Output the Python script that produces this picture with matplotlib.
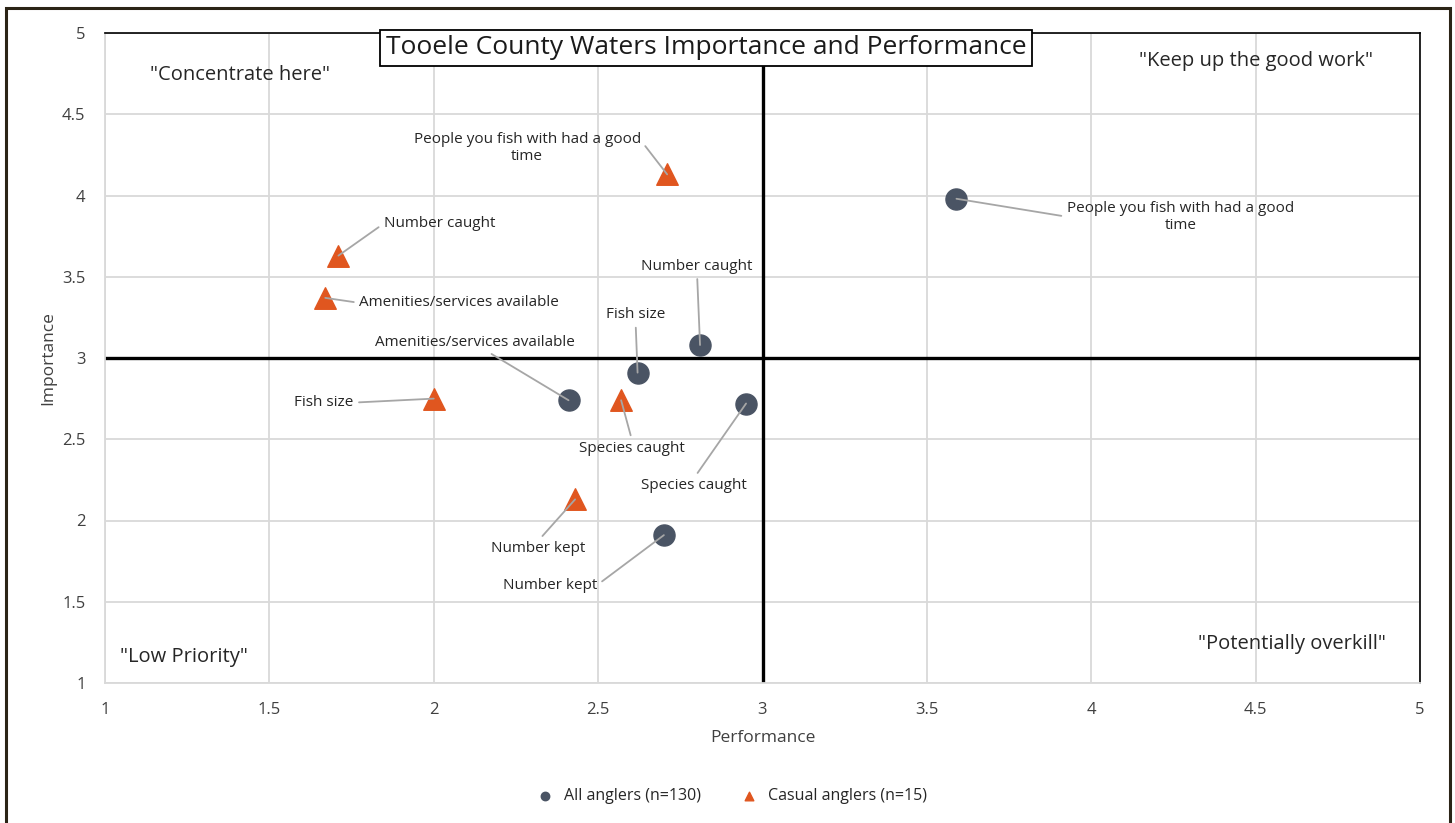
import matplotlib.pyplot as plt
from matplotlib.patches import Rectangle

plt.rcParams['font.family'] = ['Open Sans', 'DejaVu Sans']

# -----------------------
# Data
# -----------------------
items = ["People you fish with had a good\ntime", "Number caught", "Fish size",
         "Amenities/services available", "Species caught", "Number kept"]

all_perf = [3.59, 2.81, 2.62, 2.41, 2.95, 2.70]
all_imp  = [3.98, 3.08, 2.91, 2.74, 2.72, 1.91]

cas_perf = [2.71, 1.71, 2.00, 1.67, 2.57, 2.43]
cas_imp  = [4.13, 3.63, 2.75, 3.37, 2.74, 2.13]

# label offsets (pixels, text centre relative to point)
all_off = [(224, -18), (-3, 79), (-2, 58), (-94, 58), (-52, -82), (-114, -50)]
cas_off = [(-140, 26), (101, 32), (-110, -4), (134, -5), (11, -48), (-37, -49)]
# where the leader line leaves the text box
all_rel = [(0.0, 0.5), (0.5, 0.0), (0.5, 0.0), (0.55, 0.0), (0.5, 1.0), (1.0, 0.5)]
cas_rel = [(1.0, 0.75), (0.0, 0.5), (1.0, 0.5), (0.0, 0.5), (0.5, 1.0), (0.5, 1.0)]

dark = '#4A5464'
orange = '#E0561F'
grey = '#A6A6A6'

fig = plt.figure(figsize=(14.55, 8.23), dpi=100)
ax = fig.add_axes([105/1455, 1-683/823, 1315/1455, 650/823])

ax.set_xlim(1, 5)
ax.set_ylim(1, 5)
ax.set_xticks([1, 1.5, 2, 2.5, 3, 3.5, 4, 4.5, 5])
ax.set_yticks([1, 1.5, 2, 2.5, 3, 3.5, 4, 4.5, 5])
ax.set_xticklabels(['1', '1.5', '2', '2.5', '3', '3.5', '4', '4.5', '5'])
ax.set_yticklabels(['1', '1.5', '2', '2.5', '3', '3.5', '4', '4.5', '5'])
ax.tick_params(length=0, labelsize=12, colors='#404040', pad=14)
ax.grid(True, color='#D9D9D9', lw=1.3, zorder=0)
ax.set_axisbelow(True)
for side in ['left', 'bottom']:
    ax.spines[side].set_color('#D9D9D9')
    ax.spines[side].set_linewidth(1.3)
for side in ['top', 'right']:
    ax.spines[side].set_color('black')
    ax.spines[side].set_linewidth(1.2)

ax.axvline(3, color='black', lw=2.4, zorder=1)
ax.axhline(3, color='black', lw=2.4, zorder=1)

ax.set_xlabel('Performance', fontsize=12.5, color='#404040', labelpad=8)
ax.set_ylabel('Importance', fontsize=12.5, color='#404040', labelpad=4)

ax.scatter(all_perf, all_imp, s=230, marker='o', color=dark, zorder=4,
           label='All anglers (n=130)')
ax.scatter(cas_perf, cas_imp, s=240, marker='^', color=orange, zorder=4,
           label='Casual anglers (n=15)')

for name, x, y, off, rel in zip(items, all_perf, all_imp, all_off, all_rel):
    ax.annotate(name, (x, y), xytext=off, textcoords='offset pixels',
                ha='center', va='center', fontsize=11, color='#262626',
                multialignment='center', zorder=5,
                arrowprops=dict(arrowstyle='-', color=grey, lw=1.3,
                                shrinkA=2, shrinkB=0, relpos=rel))
for name, x, y, off, rel in zip(items, cas_perf, cas_imp, cas_off, cas_rel):
    ax.annotate(name, (x, y), xytext=off, textcoords='offset pixels',
                ha='center', va='center', fontsize=11, color='#262626',
                multialignment='center', zorder=5,
                arrowprops=dict(arrowstyle='-', color=grey, lw=1.3,
                                shrinkA=2, shrinkB=0, relpos=rel))

# quadrant captions
ax.text(1.41, 4.74, '"Concentrate here"', ha='center', va='center', fontsize=14.5, color='#262626')
ax.text(4.5, 4.83, '"Keep up the good work"', ha='center', va='center', fontsize=14.5, color='#262626')
ax.text(1.24, 1.16, '"Low Priority"', ha='center', va='center', fontsize=14.5, color='#262626')
ax.text(4.61, 1.24, '"Potentially overkill"', ha='center', va='center', fontsize=14.5, color='#262626')

# title box
fig.text(706/1455, 1-48/823, 'Tooele County Waters Importance and Performance',
         ha='center', va='center', fontsize=19, color='#1a1a1a',
         bbox=dict(boxstyle='square,pad=0.22', fc='white', ec='black', lw=1.3))

leg = fig.legend(loc='center', bbox_to_anchor=(728/1455, 1-796/823), ncol=2,
                 frameon=False, fontsize=11.5, markerscale=0.4,
                 handletextpad=0.2, columnspacing=2.0)
for t in leg.get_texts():
    t.set_color('#262626')

# outer frame
fig.patches.append(Rectangle((6/1455, -0.05), 1444/1455, 1.05 - 8/823,
                             transform=fig.transFigure, fill=False,
                             ec='#2B2416', lw=2.2))

fig.savefig('out.png', dpi=100, facecolor='white')
